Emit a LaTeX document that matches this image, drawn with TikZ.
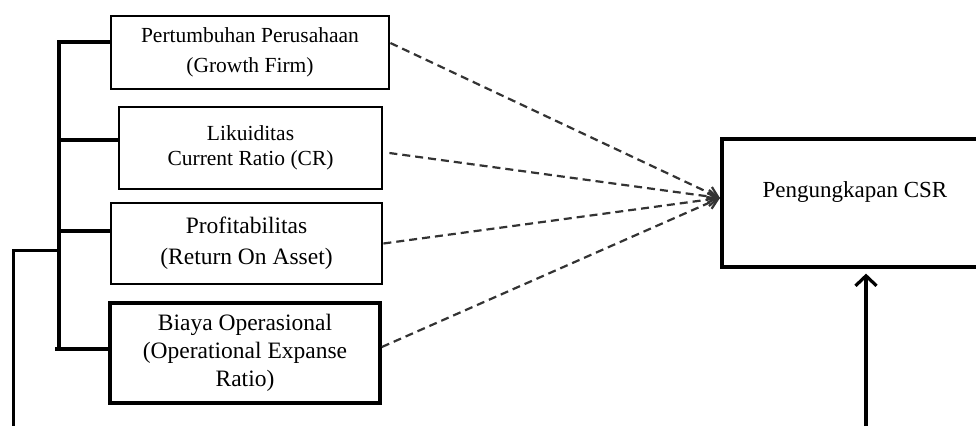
\documentclass[tikz,border=0pt]{standalone}
\usepackage{fontspec}
\setmainfont{Liberation Serif}
\usetikzlibrary{arrows.meta}
\tikzset{box/.style={draw=black, rectangle, line width=2.8pt, align=center, inner sep=0pt},
	smalltext/.style={font=\fontsize{21.5}{30}\selectfont},
	bigtext/.style={font=\fontsize{23.5}{30}\selectfont},
	bracket/.style={draw=black, line width=3.6pt},
	link/.style={draw=black!80, line width=2.2pt, dash pattern=on 8pt off 5pt}}

\begin{document}
\begin{tikzpicture}[x=1pt,y=-1pt]
		\useasboundingbox (0,0) rectangle (976,426);
		\begin{scope}[every node/.style={box}]
			\node[smalltext, minimum width=278, minimum height=73] (growth) at (250,52.5) {Pertumbuhan Perusahaan\\(Growth Firm)};
			\node[smalltext, font=\fontsize{21.5}{25}\selectfont, minimum width=263, minimum height=82] (liquid) at (250.5,148) {Likuiditas\\Current Ratio (CR)};
			\node[bigtext, font=\fontsize{23.5}{31}\selectfont, minimum width=271, minimum height=81] (profit) at (246.5,243.5) {Profitabilitas\\(Return On Asset)};
			\node[bigtext, font=\fontsize{23.5}{28}\selectfont, line width=3.6pt, minimum width=270, minimum height=100] (opex) at (245,353) {Biaya Operasional\\(Operational Expanse\\Ratio)};
			\node[line width=3.2pt, minimum width=280, minimum height=128] (csr) at (862,203) {};
		\end{scope}
		\node[font=\fontsize{23}{28}\selectfont, inner sep=0pt] (csrlabel) at (855,192) {Pengungkapan CSR};
		% left bracket
		\coordinate (br1) at (59,42);
		\coordinate (br2) at (59,140);
		\coordinate (br3) at (59,231);
		\coordinate (br4) at (59,349);
		\coordinate (br4s) at (55,349);
		\coordinate (jn) at (59,250);
		\coordinate (lc) at (13,250);
		\coordinate (lb) at (13,426);
		\coordinate (rb) at (866,426);
		\coordinate (hub) at (720,198);
		\draw[bracket] (growth.west |- br1) -- (br1) -- (br4);
		\draw[bracket] (br2) -- (liquid.west |- br2);
		\draw[bracket] (br3) -- (profit.west |- br3);
		\draw[bracket] (br4s) -- (opex.west |- br4);
		\draw[line width=3pt] (jn) -- (lc) -- (lb);
		\begin{scope}[>={Straight Barb[length=10pt,width=13pt]}, every edge/.style={link}]
			\path [->] ([yshift=9.5pt]growth.east) edge (hub);
			\path [->] ([xshift=6pt,yshift=-5pt]liquid.east) edge (hub);
			\path [->] (profit.east) edge (hub);
			\path [->] ([yshift=6pt]opex.east) edge (hub);
		\end{scope}
		\draw[line width=3.2pt, -{Straight Barb[length=10pt,width=21pt]}] (rb) -- ([yshift=-5pt]csr.south -| rb);
	\end{tikzpicture}
\end{document}
